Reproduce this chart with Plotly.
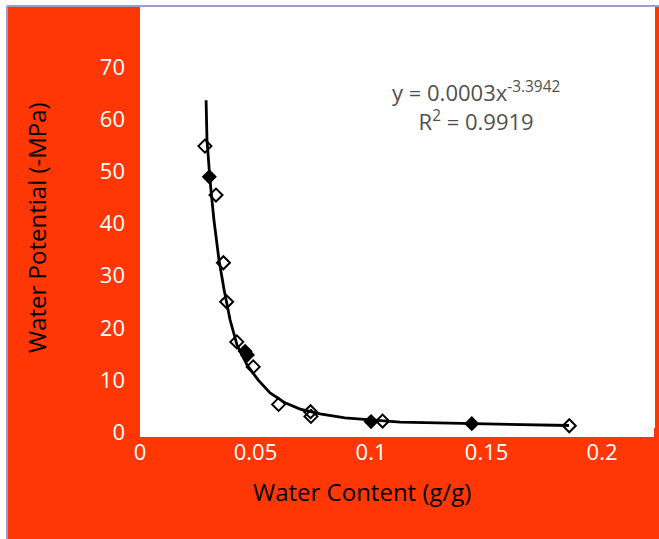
import plotly.graph_objects as go

# Measured points (open diamonds)
open_x = [0.0281, 0.0329, 0.0361, 0.0375, 0.0419, 0.0490, 0.0600, 0.0738, 0.0740, 0.1050, 0.1858]
open_y = [54.9, 45.5, 32.5, 25.0, 17.3, 12.5, 5.3, 3.9, 3.0, 2.1, 1.2]
# Measured points (dark / filled diamonds)
filled_x = [0.0300, 0.0455, 0.0465, 0.1000, 0.1436]
filled_y = [49.0, 15.5, 14.8, 2.0, 1.6]
# Fitted trend line
fit_x = [0.0286, 0.0290, 0.0303, 0.0320, 0.0342, 0.0364, 0.0390, 0.0420, 0.0463, 0.0511,
         0.0563, 0.0628, 0.0693, 0.0779, 0.0887, 0.0996, 0.1126, 0.1342, 0.1558, 0.1857]
fit_y = [63.7, 56.0, 48.4, 40.7, 33.0, 27.3, 21.5, 16.7, 12.9, 10.0,
         7.5, 5.6, 4.4, 3.5, 2.7, 2.3, 1.9, 1.7, 1.5, 1.25]

x_ticks = [0, 0.05, 0.1, 0.15, 0.2]
x_tick_text = ["0", "0.05", "0.1", "0.15", "0.2"]
y_ticks = [0, 10, 20, 30, 40, 50, 60, 70]

equation = "y = 0.0003x<sup>-3.3942</sup>"
r_squared = "R<sup>2</sup> = 0.9919"
x_title = "Water Content (g/g)"
y_title = "Water Potential (-MPa)"

RED = "#FF3705"
FONT = "Open Sans, Lato, sans-serif"
W, H = 659, 539
L, R, T, B = 140, 4, 6, 102
pw, ph = W - L - R, H - T - B

def px(xp):
    return (xp - L) / pw

def py(yp):
    return (H - B - yp) / ph

fig = go.Figure()
fig.add_trace(go.Scatter(x=fit_x, y=fit_y, mode="lines",
                         line=dict(color="black", width=2.8), hoverinfo="skip"))
fig.add_trace(go.Scatter(x=open_x, y=open_y, mode="markers",
                         marker=dict(symbol="diamond-open", size=10, color="black",
                                     line=dict(width=2, color="black"))))
fig.add_trace(go.Scatter(x=filled_x, y=filled_y, mode="markers",
                         marker=dict(symbol="diamond", size=10, color="black",
                                     line=dict(width=1.5, color="black"))))

shapes = [
    # white strips outside the framed figure
    dict(type="rect", xref="paper", yref="paper", x0=px(-5), x1=px(7), y0=py(-5), y1=py(H + 5),
         fillcolor="white", line=dict(width=0), layer="above"),
    dict(type="rect", xref="paper", yref="paper", x0=px(-5), x1=px(W + 5), y0=py(-5), y1=py(6),
         fillcolor="white", line=dict(width=0), layer="above"),
    # lavender border lines
    dict(type="line", xref="paper", yref="paper", x0=px(7), x1=px(W + 5), y0=py(6), y1=py(6),
         line=dict(color="#9b9bcc", width=2), layer="above"),
    dict(type="line", xref="paper", yref="paper", x0=px(7), x1=px(7), y0=py(6), y1=py(H + 5),
         line=dict(color="#9b9bcc", width=2), layer="above"),
    # small red notch at the lower right
    dict(type="rect", xref="paper", yref="paper", x0=px(654), x1=px(W + 5), y0=py(428), y1=py(438),
         fillcolor=RED, line=dict(width=0), layer="above"),
]

fig.update_layout(
    width=W, height=H,
    margin=dict(l=L, r=R, t=T, b=B, pad=0),
    paper_bgcolor=RED,
    plot_bgcolor="white",
    showlegend=False,
    font=dict(family=FONT),
    shapes=shapes,
    xaxis=dict(range=[0, 0.2229], tickvals=x_ticks, ticktext=x_tick_text,
               showgrid=False, zeroline=False, showline=False, ticks="", automargin=False,
               tickfont=dict(color="white", size=22), ticklabelstandoff=0),
    yaxis=dict(range=[-0.96, 81.8], tickvals=y_ticks,
               showgrid=False, zeroline=False, showline=False, ticks="", automargin=False,
               tickfont=dict(color="white", size=22), ticklabelstandoff=14),
    annotations=[
        dict(text=equation + "<br>" + r_squared, x=px(476), y=py(106), xref="paper", yref="paper",
             showarrow=False, align="center", font=dict(size=22, color="#505050"),
             xanchor="center", yanchor="middle"),
        dict(text=x_title, x=px(362), y=py(491), xref="paper", yref="paper",
             showarrow=False, font=dict(size=24, color="black"), xanchor="center", yanchor="middle"),
        dict(text=y_title, x=px(36), y=py(228), xref="paper", yref="paper", textangle=-90,
             showarrow=False, font=dict(size=24, color="black"), xanchor="center", yanchor="middle"),
    ],
)

fig.write_html("out.html", config={"displayModeBar": False},
               post_script="document.body.style.margin='0';")
